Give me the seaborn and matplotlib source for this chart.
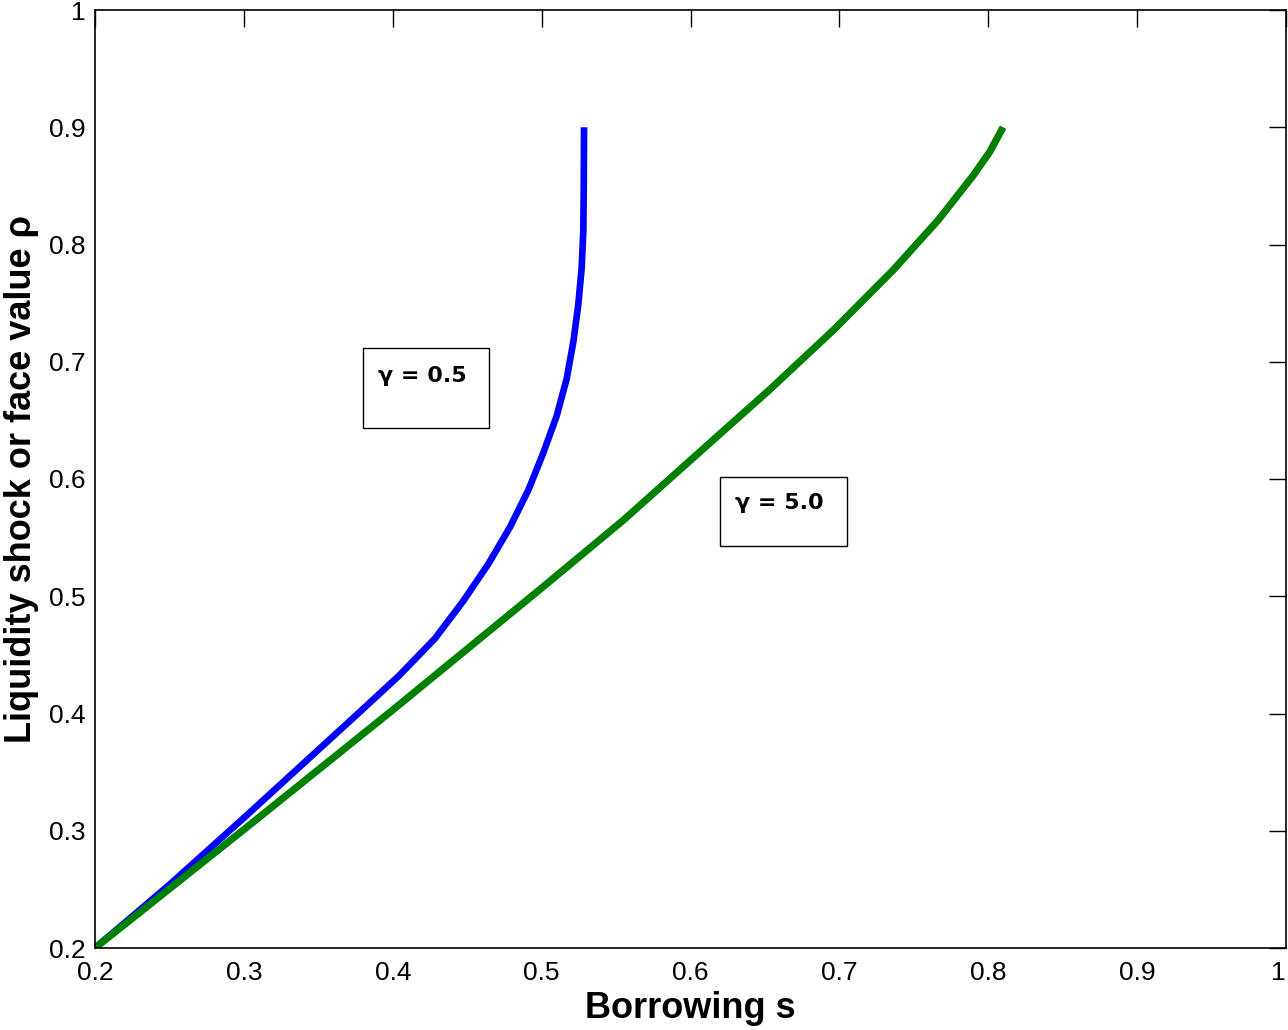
import matplotlib
matplotlib.use("Agg")
import matplotlib.pyplot as plt
from matplotlib.patches import Rectangle
import pandas as pd
import seaborn as sns

# values
blue_s = [0.200, 0.250, 0.300, 0.350, 0.375, 0.404, 0.4284, 0.4474, 0.4642,
          0.4788, 0.4911, 0.5011, 0.5101, 0.5168, 0.5213, 0.5246, 0.5269,
          0.5280, 0.5283, 0.5285]
blue_rho = [0.200, 0.254, 0.311, 0.369, 0.398, 0.432, 0.4640, 0.4960, 0.5275,
            0.5591, 0.5906, 0.6222, 0.6537, 0.6853, 0.7169, 0.7484, 0.7800,
            0.8115, 0.850, 0.900]

green_s = [0.200, 0.300, 0.400, 0.500, 0.555, 0.615, 0.653, 0.696, 0.736,
           0.7665, 0.790, 0.801, 0.810]
green_rho = [0.200, 0.301, 0.403, 0.507, 0.565, 0.633, 0.676, 0.727, 0.778,
             0.821, 0.859, 0.879, 0.900]

tick_vals = [0.2, 0.3, 0.4, 0.5, 0.6, 0.7, 0.8, 0.9, 1.0]
tick_labels = ["0.2", "0.3", "0.4", "0.5", "0.6", "0.7", "0.8", "0.9", "1"]

sns.set_style("white")
plt.rcParams["font.family"] = ["Liberation Sans", "DejaVu Sans"]
plt.rcParams["text.color"] = "black"
plt.rcParams["axes.labelcolor"] = "black"

fig = plt.figure(figsize=(12.88, 10.30), dpi=100)
ax = fig.add_axes([95 / 1288, 82 / 1030, 1191 / 1288, 938 / 1030])

blue = pd.DataFrame({"s": blue_s, "rho": blue_rho})
green = pd.DataFrame({"s": green_s, "rho": green_rho})
sns.lineplot(data=blue, x="s", y="rho", sort=False, color="#0000ff",
             linewidth=4.8, ax=ax, solid_capstyle="butt")
sns.lineplot(data=green, x="s", y="rho", sort=False, color="#008000",
             linewidth=5.2, ax=ax, solid_capstyle="butt")

ax.set_xlim(0.2, 1.0)
ax.set_ylim(0.2, 1.0)
ax.set_xticks(tick_vals)
ax.set_xticklabels(tick_labels)
ax.set_yticks(tick_vals)
ax.set_yticklabels(tick_labels)
ax.tick_params(direction="in", length=12, width=1, colors="black",
               labelsize=19, top=True, right=True, pad=7)
ax.tick_params(axis="x", pad=9)
ax.get_xticklabels()[-1].set_ha("right")
for sp in ax.spines.values():
    sp.set_color("black")
    sp.set_linewidth(1.2)

ax.set_xlabel("Borrowing s", fontsize=26, fontweight="bold")
ax.set_ylabel("Liquidity shock or face value \u03c1", fontsize=26,
              fontweight="bold")
ax.xaxis.set_label_coords(0.5, -0.046)
ax.yaxis.set_label_coords(-0.047, 0.5)

# annotation boxes
ax.add_patch(Rectangle((0.380, 0.6435), 0.0847, 0.0683, fill=False,
                       edgecolor="black", linewidth=1.0))
ax.text(0.4197, 0.6879, "\u03b3 = 0.5", fontsize=16, fontweight="bold",
        family=["DejaVu Sans"], ha="center", va="center")
ax.add_patch(Rectangle((0.6198, 0.5429), 0.0853, 0.0588, fill=False,
                       edgecolor="black", linewidth=1.0))
ax.text(0.6595, 0.5796, "\u03b3 = 5.0", fontsize=16, fontweight="bold",
        family=["DejaVu Sans"], ha="center", va="center")

fig.savefig("out.png", dpi=100)
